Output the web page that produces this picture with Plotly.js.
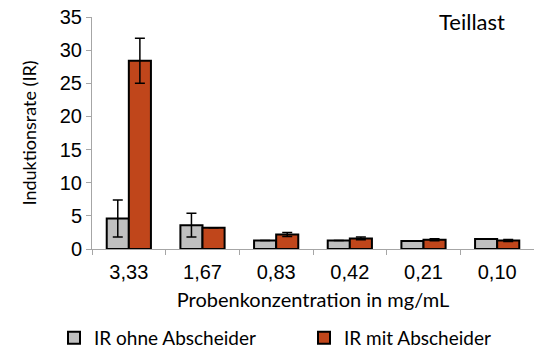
<!DOCTYPE html>
<html>
<head>
<meta charset="utf-8">
<script src="https://cdn.plot.ly/plotly-3.0.1.min.js"></script>
<style>html,body{margin:0;padding:0;background:#fff;}#chart{width:534px;height:354px;}</style>
</head>
<body>
<div id="chart"></div>
<script>
const categories = ["3,33", "1,67", "0,83", "0,42", "0,21", "0,10"];
const seriesNames = ["IR ohne Abscheider", "IR mit Abscheider"];
const ohneValues = [4.6, 3.6, 1.3, 1.3, 1.2, 1.5];
const ohneErrors = [2.8, 1.8, 0, 0, 0, 0];
const mitValues = [28.4, 3.2, 2.2, 1.6, 1.4, 1.3];
const mitErrors = [3.4, 0, 0.3, 0.2, 0.15, 0.15];
const yTicks = [0, 5, 10, 15, 20, 25, 30, 35];

const calib = "Lato, 'Open Sans', sans-serif";
const arial = "'Liberation Sans', Arial, sans-serif";

const traces = [
  {
    type: "bar", name: seriesNames[0], x: categories, y: ohneValues, legend: "legend",
    marker: {color: "#c0c0c0", line: {color: "#000", width: 2}},
    error_y: {type: "data", array: ohneErrors, visible: true, color: "#000", thickness: 1.5, width: 5}
  },
  {
    type: "bar", name: seriesNames[1], x: categories, y: mitValues, legend: "legend2",
    marker: {color: "#c0461b", line: {color: "#000", width: 2}},
    error_y: {type: "data", array: mitErrors, visible: true, color: "#000", thickness: 1.5, width: 5}
  }
];

const legendBase = {
  orientation: "h", xref: "container", xanchor: "left",
  y: 16/354, yref: "container", yanchor: "middle",
  font: {family: calib, size: 19, color: "#000"},
  bgcolor: "rgba(0,0,0,0)"
};

const layout = {
  width: 534, height: 354,
  margin: {l: 92, r: 0, t: 17, b: 105},
  paper_bgcolor: "#fff", plot_bgcolor: "#fff",
  barmode: "group", bargap: 0.4, bargroupgap: 0,
  showlegend: true,
  title: {text: "Teillast", x: 472/534, xanchor: "center", y: 1 - 22/354, yanchor: "middle",
          font: {family: calib, size: 22, color: "#000"}},
  xaxis: {
    type: "category", showline: true, linecolor: "#a6a6a6", linewidth: 1,
    ticks: "outside", tickson: "boundaries", ticklen: 5, tickcolor: "#a6a6a6",
    ticklabelstandoff: 5,
    tickfont: {family: arial, size: 20, color: "#000"},
    title: {text: "Probenkonzentration in mg/mL", font: {family: calib, size: 20, color: "#000"}, standoff: 10},
    fixedrange: true
  },
  yaxis: {
    range: [0, 35], tickvals: yTicks, showgrid: false, zeroline: false,
    showline: true, linecolor: "#a6a6a6", linewidth: 1,
    ticks: "outside", ticklen: 5, tickcolor: "#a6a6a6",
    tickfont: {family: arial, size: 20, color: "#000"},
    title: {text: "Induktionsrate (IR)", font: {family: calib, size: 18, color: "#000"}, standoff: 18},
    fixedrange: true
  },
  legend: Object.assign({}, legendBase, {x: 54/534}),
  legend2: Object.assign({}, legendBase, {x: 304/534})
};

Plotly.newPlot("chart", traces, layout, {displayModeBar: false, staticPlot: true});
</script>
</body>
</html>
